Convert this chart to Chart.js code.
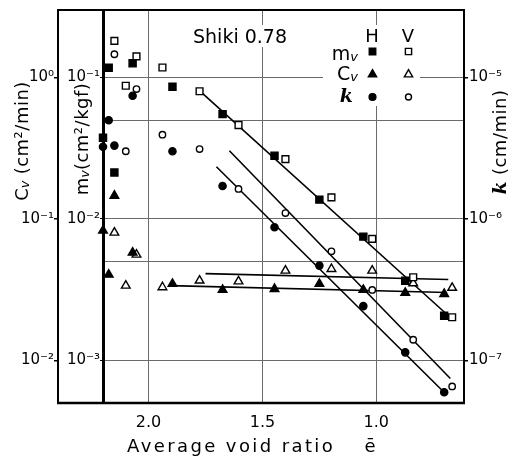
<!DOCTYPE html>
<html><head><meta charset="utf-8">
<script src="https://cdn.jsdelivr.net/npm/chart.js@4/dist/chart.umd.min.js"></script>
<style>html,body{margin:0;padding:0;background:#fff}#wrap{width:524px;height:456px}</style>
</head><body><div id="wrap"><canvas id="c" width="524" height="456"></canvas></div>
<script>
// ---- data ----
const eH = [2.20, 2.175, 2.15, 2.07, 1.895, 1.675, 1.447, 1.25, 1.057, 0.873, 0.702];
const eV = [2.15, 2.10, 2.053, 1.939, 1.776, 1.605, 1.399, 1.197, 1.018, 0.838, 0.667];
const mvH = [0.0375, 0.117, 0.0213, 0.126, 0.086, 0.0551, 0.028, 0.0137, 0.0075, 0.00366, 0.00207];
const mvV = [0.1815, 0.0874, 0.141, 0.1177, 0.0799, 0.0461, 0.0265, 0.0142, 0.00723, 0.00387, 0.00202];
const cvH = [0.0827, 0.0404, 0.146, 0.0578, 0.0348, 0.0315, 0.0320, 0.0348, 0.0315, 0.0300, 0.0295];
const cvV = [0.080, 0.0338, 0.056, 0.0329, 0.0367, 0.0362, 0.0431, 0.0443, 0.0431, 0.0351, 0.0326];
const kH = [3.24e-6, 4.99e-6, 3.30e-6, 7.43e-6, 3.01e-6, 1.71e-6, 8.73e-7, 4.68e-7, 2.42e-7, 1.14e-7, 5.96e-8];
const kV = [1.46e-5, 3.01e-6, 8.28e-6, 3.94e-6, 3.12e-6, 1.63e-6, 1.10e-6, 5.90e-7, 3.15e-7, 1.40e-7, 6.55e-8];
// fitted straight lines (end points)
const mvFitE = [1.785, 0.675], mvFit = [0.0832, 0.00201];
const kVFitE = [1.645, 0.675], kVFit = [3.035e-6, 7.45e-8];
const kHFitE = [1.702, 0.706], kHFit = [2.34e-6, 6.03e-8];
const cvVFitE = [1.75, 0.684], cvVFit = [0.0411, 0.0373];
const cvHFitE = [1.9035, 0.689], cvHFit = [0.0338, 0.0302];
// ticks
const xTicks = [2.0, 1.5, 1.0];
const cvTicks = [1e-2, 1e-1, 1];
const mvTicks = [5e-4, 1e-3, 5e-3, 1e-2, 5e-2, 1e-1];
const kTicks = [1e-7, 1e-6, 1e-5];

const FONT = '"DejaVu Sans", sans-serif';
const pts = (xs, ys) => xs.map((x, i) => ({x, y: ys[i]}));
const isDecade = v => Math.abs(Math.log10(v) - Math.round(Math.log10(v))) < 0.01;
const SUP = {'-':'\u207B','0':'\u2070','1':'\u00B9','2':'\u00B2','3':'\u00B3','4':'\u2074','5':'\u2075','6':'\u2076','7':'\u2077','8':'\u2078','9':'\u2079'};
const supLabel = v => isDecade(v) ? '10' + String(Math.round(Math.log10(v))).split('').map(c => SUP[c]).join('') : '';

function marker(style, filled, r) {
  return {pointStyle: style, pointRadius: r, pointHoverRadius: r, borderWidth: 1.4,
    borderColor: '#000', backgroundColor: filled ? '#000' : '#fff', showLine: false, clip: false};
}
function fit(xs, ys, axis) {
  return {data: pts(xs, ys), yAxisID: axis, showLine: true, pointRadius: 0, borderColor: '#000',
    borderWidth: 1.6, backgroundColor: '#000', clip: false};
}

const datasets = [
  Object.assign({label: 'mv H', data: pts(eH, mvH), yAxisID: 'y'}, marker('rect', true, 5)),
  Object.assign({label: 'mv V', data: pts(eV, mvV), yAxisID: 'y'}, marker('rect', false, 4.8)),
  Object.assign({label: 'Cv H', data: pts(eH, cvH), yAxisID: 'yCv'}, marker('triangle', true, 5)),
  Object.assign({label: 'Cv V', data: pts(eV, cvV), yAxisID: 'yCv'}, marker('triangle', false, 5)),
  Object.assign({label: 'k H', data: pts(eH, kH), yAxisID: 'yK'}, marker('circle', true, 3.6)),
  Object.assign({label: 'k V', data: pts(eV, kV), yAxisID: 'yK'}, marker('circle', false, 3.2)),
  fit(mvFitE, mvFit, 'y'),
  fit(kVFitE, kVFit, 'yK'),
  fit(kHFitE, kHFit, 'yK'),
  fit(cvVFitE, cvVFit, 'yCv'),
  fit(cvHFitE, cvHFit, 'yCv')
];

function runs(ctx, list, x, y, rot, align) {
  ctx.save();
  ctx.translate(x, y);
  if (rot) ctx.rotate(-Math.PI / 2);
  ctx.textBaseline = 'alphabetic';
  ctx.textAlign = 'left';
  let total = 0;
  list.forEach(r => { ctx.font = r.font; ctx.letterSpacing = r.ls || '0px'; total += ctx.measureText(r.t).width + (r.dx || 0); });
  let cx = align === 'right' ? -total : align === 'left' ? 0 : -total / 2;
  list.forEach(r => {
    ctx.font = r.font; ctx.letterSpacing = r.ls || '0px';
    cx += (r.dx || 0);
    ctx.fillText(r.t, cx, r.dy || 0);
    cx += ctx.measureText(r.t).width;
  });
  ctx.restore();
}

function pointAt(ctx, style, filled, r, x, y) {
  ctx.save();
  ctx.fillStyle = filled ? '#000' : '#fff';
  ctx.strokeStyle = '#000';
  ctx.lineWidth = 1.4;
  Chart.helpers.drawPoint(ctx, {pointStyle: style, radius: r, rotation: 0, borderWidth: 1.4}, x, y);
  ctx.restore();
}

const decor = {
  id: 'decor',
  beforeDatasetsDraw(chart) {
    const ctx = chart.ctx;
    ctx.save();
    ctx.fillStyle = '#fff';
    ctx.fillRect(190, 25, 103, 22);
    ctx.fillRect(323, 25, 97, 81);
    ctx.fillStyle = '#000';
    runs(ctx, [{t: 'Shiki 0.78', font: '19px ' + FONT}], 193, 43, false, 'left');
    runs(ctx, [{t: 'H', font: '18px ' + FONT}], 372, 42, false);
    runs(ctx, [{t: 'V', font: '18px ' + FONT}], 408, 42, false);
    runs(ctx, [{t: 'm', font: '19px ' + FONT}, {t: 'v', font: 'italic 13px ' + FONT, dy: 1}], 358, 60, false, 'right');
    runs(ctx, [{t: 'C', font: '19px ' + FONT}, {t: 'v', font: 'italic 13px ' + FONT, dy: 1}], 358, 80, false, 'right');
    runs(ctx, [{t: 'k', font: 'bold italic 19px "DejaVu Serif", serif'}], 353, 102, false, 'right');
    pointAt(ctx, 'rect', true, 4.6, 372.5, 51.5);
    pointAt(ctx, 'rect', false, 4.4, 408.5, 51.5);
    pointAt(ctx, 'triangle', true, 4.8, 372.5, 74.5);
    pointAt(ctx, 'triangle', false, 4.8, 408.5, 74.5);
    pointAt(ctx, 'circle', true, 3.4, 372.5, 97);
    pointAt(ctx, 'circle', false, 3, 408.5, 97);
    ctx.restore();
  },
  afterDraw(chart) {
    const ctx = chart.ctx, a = chart.chartArea;
    const left = chart.scales.yCv.right;
    ctx.save();
    ctx.strokeStyle = '#000';
    ctx.lineWidth = 2;
    ctx.beginPath();
    ctx.moveTo(left - 1, a.top); ctx.lineTo(a.right + 1, a.top);
    ctx.stroke();
    ctx.lineWidth = 2.5;
    ctx.beginPath();
    ctx.moveTo(left - 1, a.bottom); ctx.lineTo(a.right + 1, a.bottom);
    ctx.stroke();
    ctx.fillStyle = '#000';
    // axis titles
    runs(ctx, [{t: 'C', font: '18px ' + FONT}, {t: 'v', font: 'italic 13px ' + FONT, dy: 1},
      {t: ' (cm\u00B2/min)', font: '18px ' + FONT, ls: '0.5px'}], 28, 141, true);
    runs(ctx, [{t: 'm', font: '18px ' + FONT}, {t: 'v', font: 'italic 13px ' + FONT, dy: 1},
      {t: '(cm\u00B2/kgf)', font: '18px ' + FONT, ls: '0.5px'}], 88, 139, true);
    runs(ctx, [{t: 'k', font: 'bold italic 19px "DejaVu Serif", serif'},
      {t: ' (cm/min)', font: '18px ' + FONT, ls: '0.5px'}], 506, 142, true);
    runs(ctx, [{t: 'Average void ratio', font: '18px ' + FONT, ls: '2.4px'}], 127, 452, false, 'left');
    runs(ctx, [{t: '\u0113', font: '18px ' + FONT}], 370, 452, false);
    ctx.restore();
  }
};

const gridColor = '#6a6a6a';
new Chart(document.getElementById('c'), {
  type: 'scatter',
  data: {datasets},
  plugins: [decor],
  options: {
    responsive: false, animation: false, events: [],
    layout: {padding: {top: 9, left: 0, right: 0, bottom: 0}},
    plugins: {legend: {display: false}, tooltip: {enabled: false}},
    scales: {
      x: {
        type: 'linear', position: 'bottom', reverse: true, min: 0.615, max: 2.2,
        afterBuildTicks: s => { s.ticks = xTicks.map(v => ({value: v})); },
        afterFit: s => { s.height = 53; },
        border: {display: false},
        grid: {color: gridColor, lineWidth: 1, drawTicks: false},
        ticks: {callback: v => v.toFixed(1), font: {family: FONT, size: 16}, color: '#000', padding: 10, maxRotation: 0, autoSkip: false}
      },
      y: {
        type: 'logarithmic', position: 'left', weight: 0, min: 5e-4, max: 0.3,
        afterBuildTicks: s => { s.ticks = mvTicks.map(v => ({value: v})); },
        afterFit: s => { s.width = 45; },
        border: {display: true, color: '#000', width: 3},
        grid: {color: gridColor, lineWidth: 1, drawTicks: true, tickLength: 3,
          tickColor: c => (c.tick && isDecade(c.tick.value)) ? '#000' : 'rgba(0,0,0,0)'},
        ticks: {callback: v => supLabel(v), font: {family: FONT, size: 15}, color: '#000', padding: 0, autoSkip: false}
      },
      yCv: {
        type: 'logarithmic', position: 'left', weight: 1, min: 5e-3, max: 3,
        afterBuildTicks: s => { s.ticks = cvTicks.map(v => ({value: v})); },
        afterFit: s => { s.width = 58; },
        border: {display: true, color: '#000', width: 2},
        grid: {drawOnChartArea: false, drawTicks: true, tickLength: 4, tickColor: '#000', lineWidth: 1.5},
        ticks: {callback: v => supLabel(v), font: {family: FONT, size: 15}, color: '#000', padding: 0, autoSkip: false}
      },
      yK: {
        type: 'logarithmic', position: 'right', min: 5e-8, max: 3e-5,
        afterBuildTicks: s => { s.ticks = kTicks.map(v => ({value: v})); },
        afterFit: s => { s.width = 60; },
        border: {display: true, color: '#000', width: 2},
        grid: {drawOnChartArea: false, drawTicks: true, tickLength: 4, tickColor: '#000', lineWidth: 1.5},
        ticks: {callback: v => supLabel(v), font: {family: FONT, size: 15}, color: '#000', padding: 1, autoSkip: false}
      }
    }
  }
});
</script></body></html>
